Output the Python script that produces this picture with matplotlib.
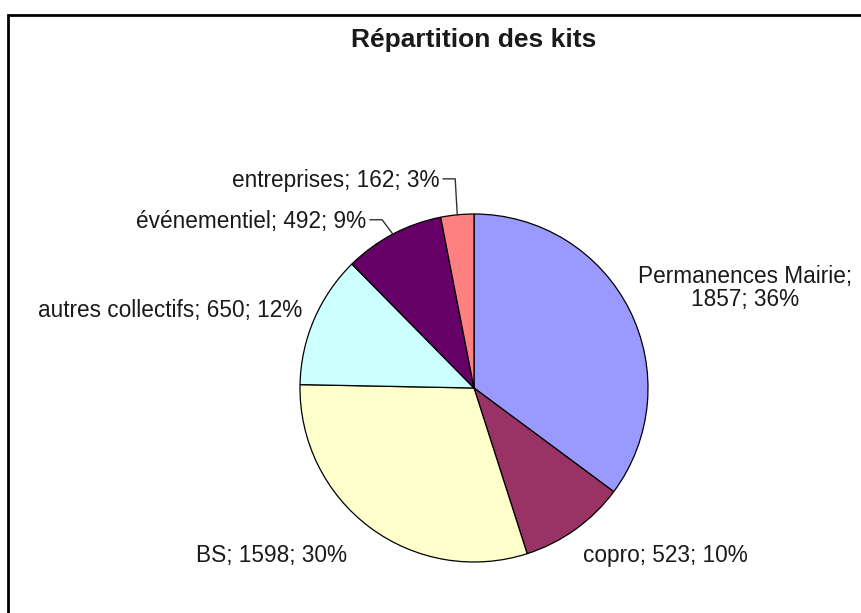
import numpy as np
import matplotlib
matplotlib.use("Agg")
import matplotlib.pyplot as plt
from matplotlib.patches import Rectangle

plt.rcParams['font.family'] = ['Liberation Sans', 'DejaVu Sans']

title = "Répartition des kits"
categories = ["Permanences Mairie", "copro", "BS", "autres collectifs",
              "événementiel", "entreprises"]
values = [1857, 523, 1598, 650, 492, 162]
percents = [36, 10, 30, 12, 9, 3]
colors = ["#9999FF", "#993366", "#FFFFCC", "#CCFFFF", "#660066", "#FF8080"]

W, H = 861, 613
fig = plt.figure(figsize=(W / 100, H / 100), dpi=100)

# pie placed in pixels: centre (474, 388), radius 174
cx, cy, R = 474, 388, 174
ax = fig.add_axes([(cx - R) / W, (H - cy - R) / H, 2 * R / W, 2 * R / H])
wedges, _ = ax.pie(values, colors=colors, startangle=90, counterclock=False,
                   radius=1.0, wedgeprops=dict(edgecolor="black", linewidth=0.9))
ax.set_xlim(-1, 1)
ax.set_ylim(-1, 1)
ax.set_aspect("equal")
ax.axis("off")

labels = [f"{c}; {v}; {p}%" for c, v, p in zip(categories, values, percents)]
labels[0] = f"{categories[0]};\n{values[0]}; {percents[0]}%"

# label anchors (data units relative to pie, radius = 1) and alignment
pos = [(1.557, 0.575, "center"), (0.626, -0.96, "left"), (-0.73, -0.96, "right"),
       (-0.989, 0.448, "right"), (-0.62, 0.955, "right"), (-0.20, 1.19, "right")]
tc = "#1a1a1a"
fs = 16.3
for lab, (x, y, ha) in zip(labels, pos):
    ax.text(x, y, lab, ha=ha, va="center", fontsize=fs, color=tc,
            linespacing=1.05, clip_on=False)

# leader lines for the two small slices
dash = 12 / R
gap = 4 / R
for i in (4, 5):
    w = wedges[i]
    mid = np.deg2rad((w.theta1 + w.theta2) / 2)
    ex, ey = np.cos(mid), np.sin(mid)
    x0, y0 = pos[i][0] + gap, pos[i][1] + 0.012
    ax.plot([x0, x0 + dash, ex], [y0, y0, ey], color="#333333", lw=1.0,
            clip_on=False)

fig.text(cx / W, 1 - 40 / H, title, ha="center", va="center", fontsize=19,
         fontweight="bold", color=tc)

# frame: only the top and left edges fall inside the picture
fig.add_artist(Rectangle((8 / W, -0.1), 1.2, 0.1 + (H - 15) / H,
                         transform=fig.transFigure, fill=False,
                         edgecolor="black", linewidth=2.0, clip_on=False))

fig.savefig("out.png", dpi=100, facecolor="white")
